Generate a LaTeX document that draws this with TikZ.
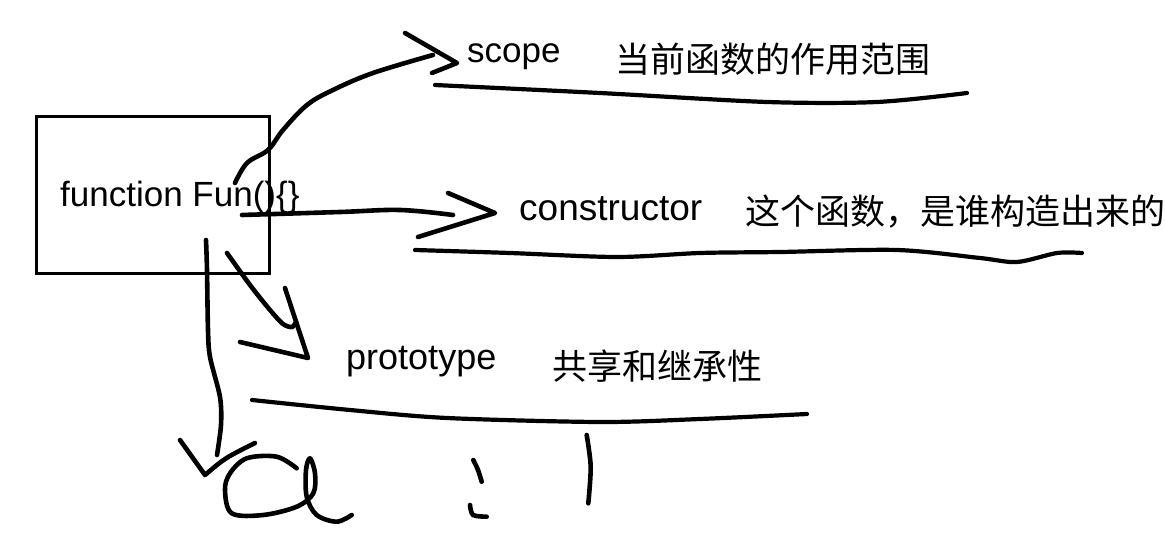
\documentclass[tikz,border=0pt]{standalone}
\usepackage{fontspec}
\setmainfont{Liberation Sans}
\newfontfamily\cjk{Noto Sans CJK SC}
\begin{document}
\begin{tikzpicture}[x=1pt,y=-1pt,
  pen/.style={line width=4.6pt,line cap=round,line join=round},
  uline/.style={line width=4.2pt,line cap=round,line join=round},
  lbl/.style={anchor=base west,inner sep=0pt,font=\fontsize{35}{40}\selectfont},
  zh/.style={anchor=base west,inner sep=0pt,font=\cjk\fontsize{35}{40}\selectfont},
  fbox/.style={draw,line width=3pt,minimum width=233pt,minimum height=157pt,inner sep=0pt,anchor=north west}]
\path[use as bounding box,fill=white] (0,0) rectangle (1165,540);

% box and its text
\node[fbox] (box) at (35,115) {};
\node[lbl] (fun) at (60,207) {function Fun()\{\}};

% labels
\node[lbl] (scope) at (467,63) {scope};
\node[zh] (scopezh) at (615,73) {当前函数的作用范围};
\node[lbl,font=\fontsize{37}{42}\selectfont] (ctor) at (519,221) {constructor};
\node[zh] (ctorzh) at (745,225) {这个函数，是谁构造出来的};
\node[lbl,font=\fontsize{36}{41}\selectfont] (proto) at (346,369) {prototype};
\node[zh] (protozh) at (552,379) {共享和继承性};

% arrow to scope
\coordinate (scTip) at (457,63);
\draw[pen] plot[smooth,tension=0.6] coordinates {(235,183) (247,163) (268,150) (283,130) (307,105) (333,90) (373,73) (433,55)};
\draw[pen] (405,33) -- (scTip) -- (432,73);

% arrow to constructor
\coordinate (ctTip) at (495,213);
\draw[pen] plot[smooth,tension=0.6] coordinates {(242,215) (340,212) (400,210) (453,215)};
\draw[pen] (448,193) -- (ctTip) -- (418,237);

% arrow to prototype
\coordinate (prTip) at (308,358);
\draw[pen] plot[smooth,tension=0.5] coordinates {(227,253) (250,285) (270,310) (283,324) (292,327) (296,322)};
\draw[pen] (285,288) -- (prTip) -- (240,342);

% underlines
\draw[uline] plot[smooth,tension=0.5] coordinates {(435,85) (600,93) (767,102) (877,102) (967,93)};
\draw[uline] plot[smooth,tension=0.5] coordinates {(415,250) (510,253) (617,257) (700,253) (780,252) (897,250) (980,258) (1017,262) (1057,253) (1082,253)};
\draw[uline] plot[smooth,tension=0.5] coordinates {(252,400) (350,410) (447,418) (600,422) (700,419) (807,414)};

% downward stroke
\draw[pen] plot[smooth,tension=0.5] coordinates {(206,240) (207,270) (208,330) (210,357) (220,397) (221,425) (217,455)};
\draw[pen] (180,440) -- (205,475) .. controls (225,458) .. (255,443);

% handwritten a : |
\draw[pen] plot[smooth,tension=0.55] coordinates {(296.7,468.3) (276.7,456.7) (246.7,458.3) (230,473.3) (225,490) (231.7,513.3) (263.3,515) (296.7,506.7) (313.3,493.3) (315,473.3) (310,458.3) (306,470) (306.7,496.7) (316.7,515) (336.7,521.7) (351.7,515)};
\draw[pen] plot[smooth] coordinates {(473.3,460) (478,470) (481.7,481.7)};
\draw[pen] plot[smooth] coordinates {(470,505) (473,515) (486.7,516.7)};
\draw[pen] plot[smooth] coordinates {(586.7,435) (590.7,466.7) (588.3,503.3)};
\end{tikzpicture}
\end{document}
